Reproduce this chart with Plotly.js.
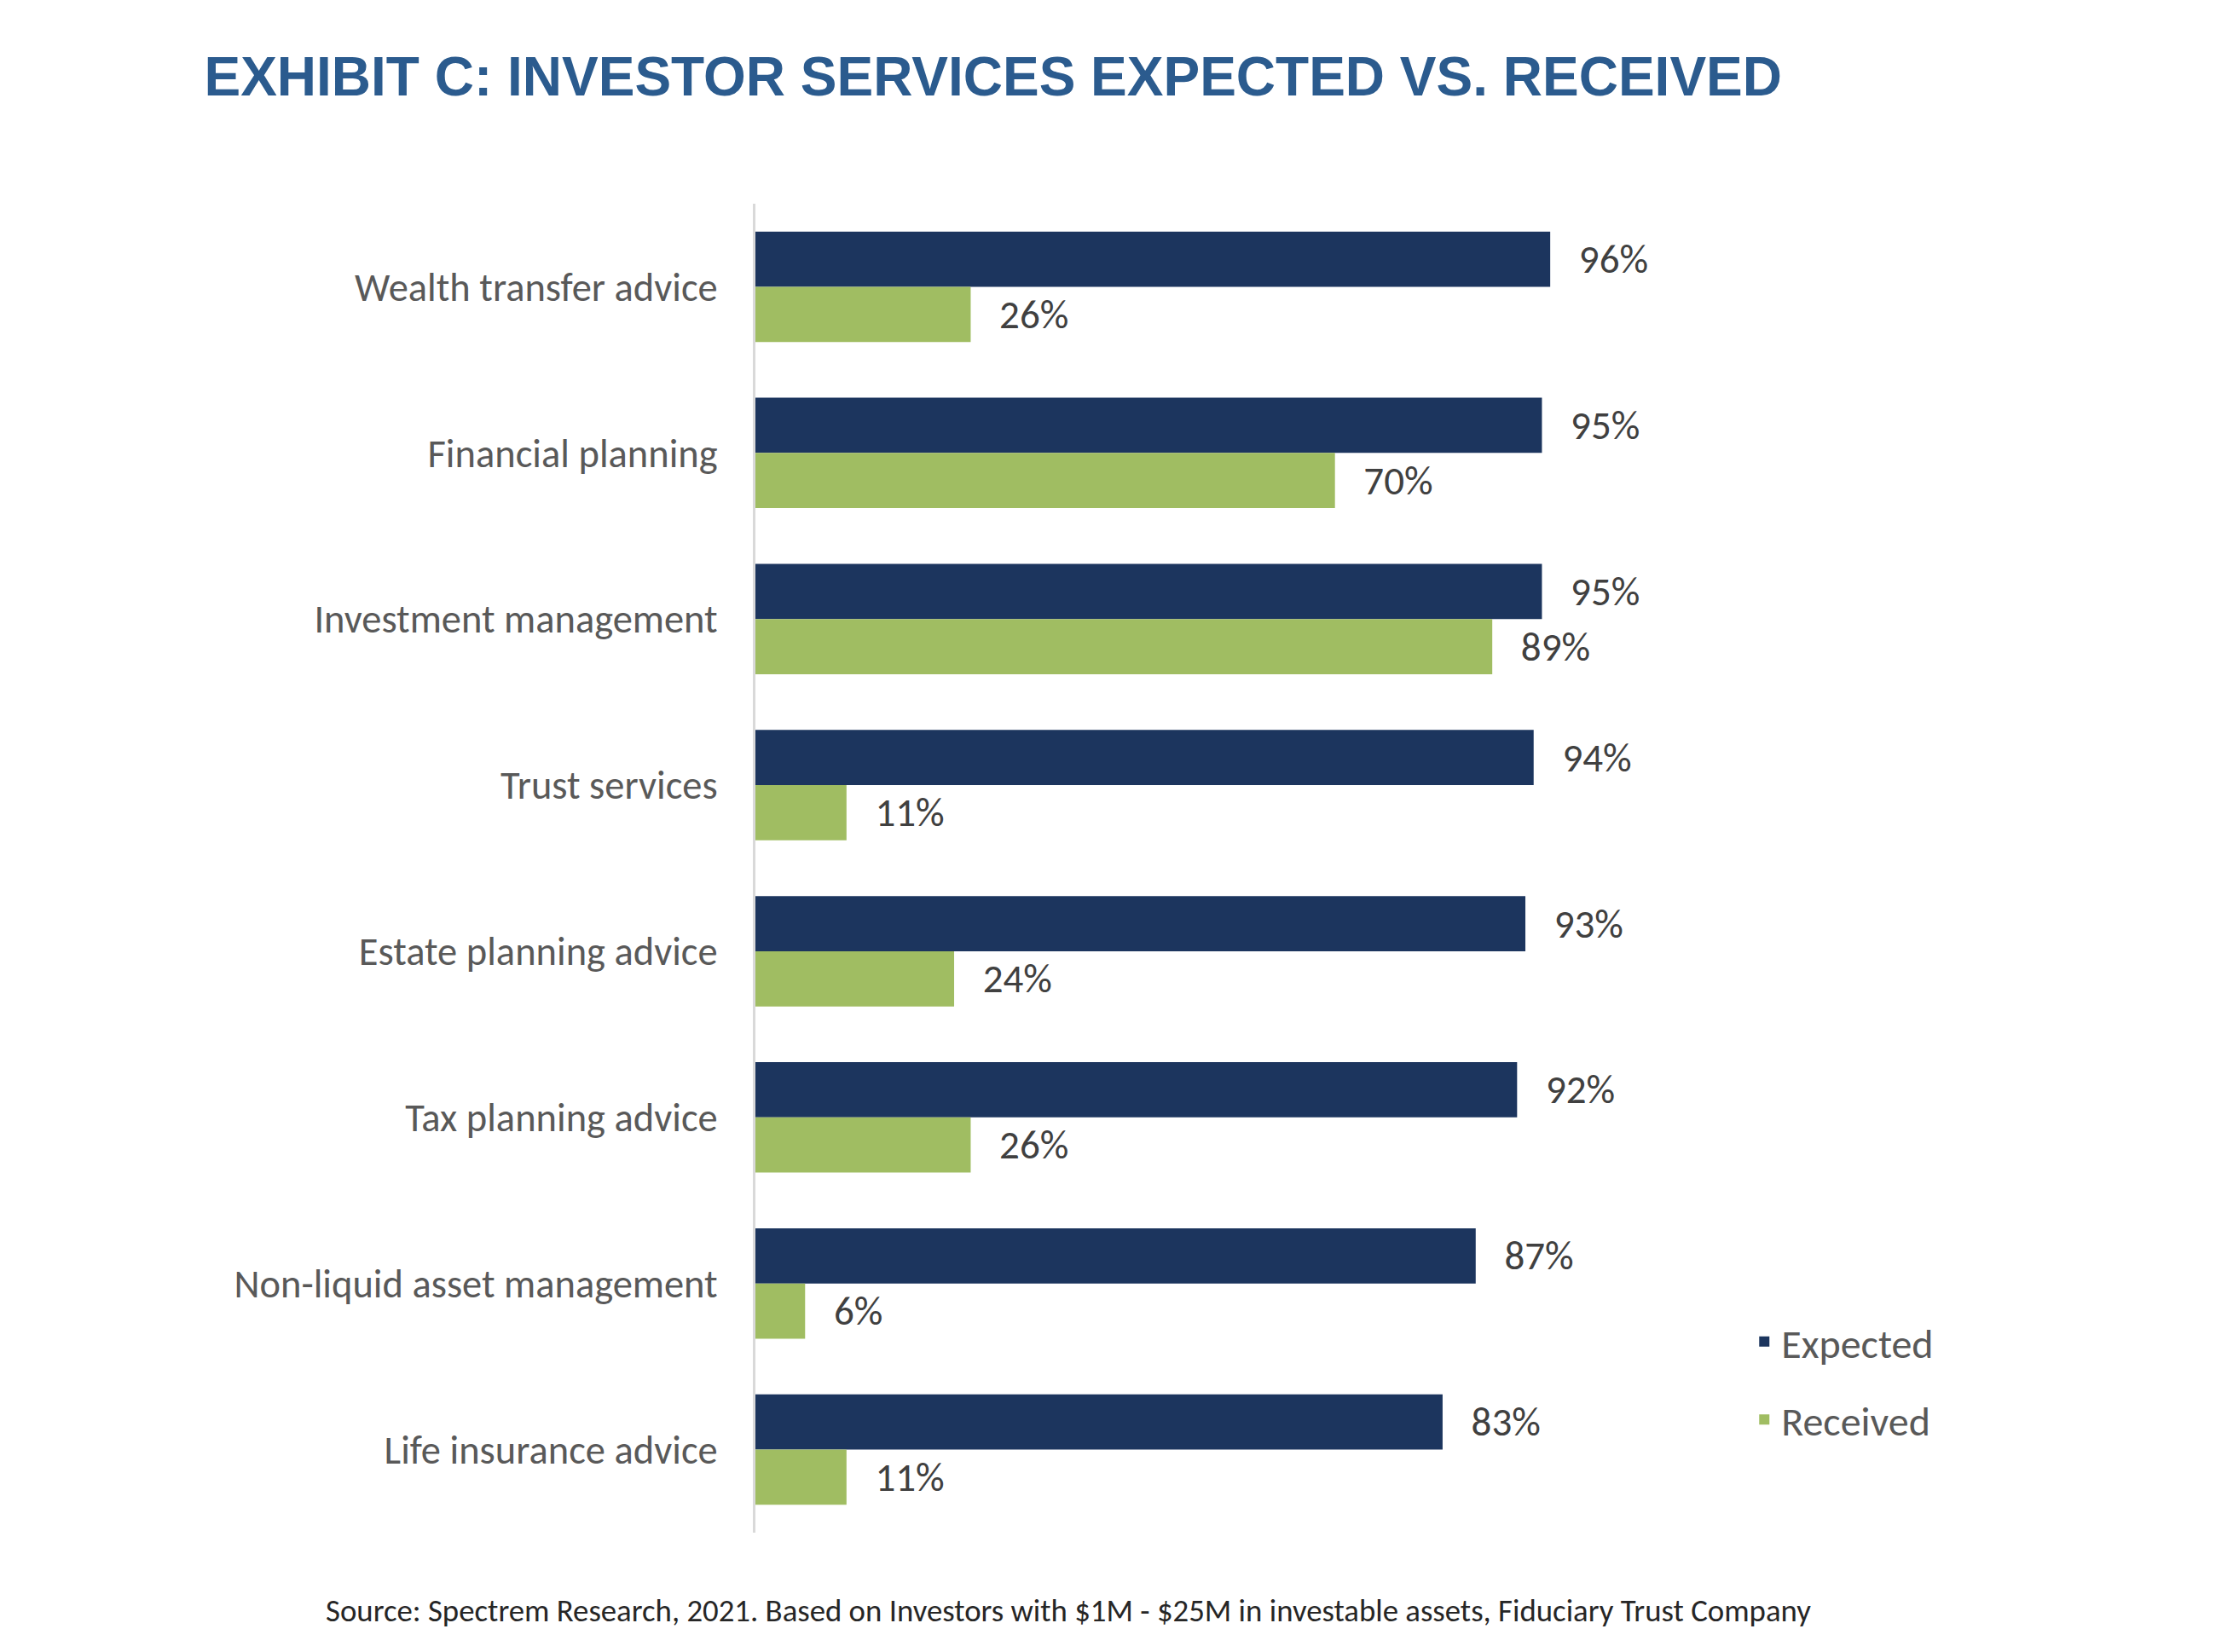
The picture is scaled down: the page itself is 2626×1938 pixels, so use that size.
<!DOCTYPE html>
<html>
<head>
<meta charset="utf-8">
<script src="https://cdn.plot.ly/plotly-3.0.1.min.js"></script>
<style>html,body{margin:0;padding:0;background:#fff;}</style>
</head>
<body>
<div id="chart" style="width:2626px;height:1938px;"></div>
<script>
const categories = ['Wealth transfer advice','Financial planning','Investment management','Trust services','Estate planning advice','Tax planning advice','Non-liquid asset management','Life insurance advice'];
const expected = [96,95,95,94,93,92,87,83];
const received = [26,70,89,11,24,26,6,11];
const seriesNames = ['Expected','Received'];
const titleText = 'EXHIBIT C: INVESTOR SERVICES EXPECTED VS. RECEIVED';
const sourceText = 'Source: Spectrem Research, 2021. Based on Investors with $1M - $25M in investable assets, Fiduciary Trust Company';

const FONT = 'Carlito, Lato, "Open Sans", sans-serif';

const common = {
  type: 'bar', orientation: 'h', y: categories,
  textposition: 'outside', cliponaxis: false, constraintext: 'none',
  texttemplate: '  \u2009%{x}%',
  textfont: {family: FONT, size: 47, color: '#404040'},
  hoverinfo: 'skip'
};
const traces = [
  Object.assign({}, common, {x: expected, name: seriesNames[0], legendgroup: 'a', marker: {color: '#1C355E'}}),
  Object.assign({}, common, {x: received, name: seriesNames[1], legendgroup: 'b', marker: {color: '#A0BD62'}})
];

const layout = {
  width: 2626, height: 1938,
  margin: {l: 886, r: 769, t: 239, b: 140, pad: 0},
  paper_bgcolor: '#fff', plot_bgcolor: '#fff',
  font: {family: FONT, color: '#595959'},
  title: {
    text: titleText,
    font: {family: '"Liberation Sans Narrow", "Arial Narrow", "Liberation Sans", Arial, sans-serif', size: 64, color: '#2B5B8E', weight: 'bold'},
    xref: 'container', yref: 'container', x: 0.0912, xanchor: 'left', y: 0.9536, yanchor: 'middle'
  },
  barmode: 'group', bargap: 0.336, bargroupgap: 0,
  xaxis: {range: [0, 100], visible: false, showgrid: false, zeroline: false, fixedrange: true},
  yaxis: {
    type: 'category', autorange: 'reversed', showgrid: false, zeroline: false,
    showline: true, linecolor: '#D9D9D9', linewidth: 3,
    ticks: '', ticklabelstandoff: 32,
    tickfont: {family: FONT, size: 46.5, color: '#595959'}
  },
  showlegend: true,
  legend: {
    x: 1.198, xanchor: 'left', y: 0.168, yanchor: 'top',
    font: {family: FONT, size: 48, color: '#595959'},
    traceorder: 'grouped', tracegroupgap: 26,
    bgcolor: 'rgba(0,0,0,0)', borderwidth: 0
  },
  annotations: [{
    text: sourceText, xref: 'paper', yref: 'paper', x: 0.3777, y: -0.0584,
    xanchor: 'center', yanchor: 'middle', showarrow: false,
    font: {family: FONT, size: 36.8, color: '#262626'}
  }]
};

Plotly.newPlot('chart', traces, layout, {displayModeBar: false, staticPlot: true});
</script>
</body>
</html>
